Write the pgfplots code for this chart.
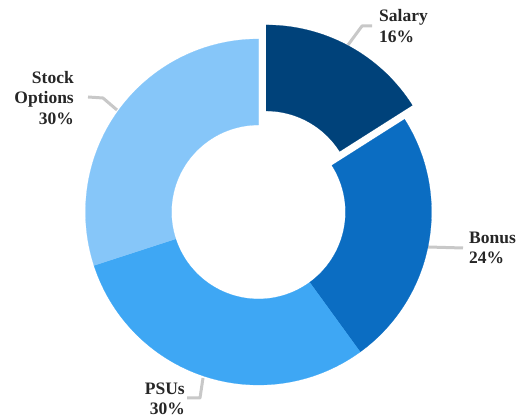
\documentclass[border=0pt]{standalone}
\usepackage{fontspec}
\setmainfont{Liberation Serif}
\usepackage{pgfplots}
\usepackage{pgfplotstable}
\pgfplotsset{compat=1.18}
\definecolor{cSal}{HTML}{00427A}
\definecolor{cBon}{HTML}{0B6DC2}
\definecolor{cPSU}{HTML}{3EA7F4}
\definecolor{cSto}{HTML}{86C6F9}
\definecolor{txt}{HTML}{262626}
\definecolor{lead}{HTML}{C8C8C8}

\pgfplotstableread{
label value
Salary 16
Bonus 24
PSUs 30
Stock 30
}\shares

\pgfplotstablegetelem{0}{value}\of\shares \edef\vSal{\pgfplotsretval}
\pgfplotstablegetelem{1}{value}\of\shares \edef\vBon{\pgfplotsretval}
\pgfplotstablegetelem{2}{value}\of\shares \edef\vPSU{\pgfplotsretval}
\pgfplotstablegetelem{3}{value}\of\shares \edef\vSto{\pgfplotsretval}
\pgfmathsetmacro\aSal{90}
\pgfmathsetmacro\bSal{\aSal-3.6*\vSal}
\pgfmathsetmacro\bBon{\bSal-3.6*\vBon}
\pgfmathsetmacro\bPSU{\bBon-3.6*\vPSU}
\pgfmathsetmacro\bSto{\bPSU-3.6*\vSto}
\pgfmathsetmacro\mSal{(\aSal+\bSal)/2}
\pgfmathsetmacro\cx{258.5}
\pgfmathsetmacro\cy{212}
\pgfmathsetmacro\cxS{\cx+16*cos(\mSal)}
\pgfmathsetmacro\cyS{\cy-16*sin(\mSal)}
\def\Rout{173}
\def\Rin{87}

\begin{document}
\begin{tikzpicture}[
  lbl/.style={font=\fontsize{17.5}{20.5}\selectfont\bfseries, text=txt, inner sep=0pt},
  ld/.style={draw=lead, line width=3pt, line join=round}
]
\useasboundingbox (0,0) rectangle (517pt,419pt);
\begin{axis}[
  at={(0,0)}, anchor=south west,
  scale only axis, x=1pt, y=1pt,
  xmin=0, xmax=517, ymin=0, ymax=419, y dir=reverse,
  hide axis, clip=false,
  declare function={
    segang(\s,\a,\b)=(\s<=1) ? (\a+(\b-\a)*\s) : ((\s<=2) ? \b : (\b+(\a-\b)*(\s-2)));
    segrad(\s,\R,\r)=(\s<=1) ? \R : ((\s<=2) ? (\R+(\r-\R)*(\s-1)) : \r);
  },
]
% leader lines
\draw[ld] (axis cs:348,45) -- (axis cs:362,26) -- (axis cs:372,26);
\draw[ld] (axis cs:117,110) -- (axis cs:103,98) -- (axis cs:88,97);
\draw[ld] (axis cs:428,247) -- (axis cs:463,248);
\draw[ld] (axis cs:203,378) -- (axis cs:200,398) -- (axis cs:187,398);

% slices
\addplot[fill=cBon, draw=cBon, line width=0.2pt, domain=0:3, samples=181, no markers]
  ({\cx+segrad(x,\Rout,\Rin)*cos(segang(x,\bSal,\bBon))},
   {\cy-segrad(x,\Rout,\Rin)*sin(segang(x,\bSal,\bBon))}) -- cycle;
\addplot[fill=cPSU, draw=cPSU, line width=0.2pt, domain=0:3, samples=181, no markers]
  ({\cx+segrad(x,\Rout,\Rin)*cos(segang(x,\bBon,\bPSU))},
   {\cy-segrad(x,\Rout,\Rin)*sin(segang(x,\bBon,\bPSU))}) -- cycle;
\addplot[fill=cSto, draw=cSto, line width=0.2pt, domain=0:3, samples=181, no markers]
  ({\cx+segrad(x,\Rout,\Rin)*cos(segang(x,\bPSU,\bSto))},
   {\cy-segrad(x,\Rout,\Rin)*sin(segang(x,\bPSU,\bSto))}) -- cycle;
\addplot[fill=cSal, draw=cSal, line width=0.2pt, domain=0:3, samples=181, no markers]
  ({\cxS+segrad(x,\Rout,\Rin)*cos(segang(x,\aSal,\bSal))},
   {\cyS-segrad(x,\Rout,\Rin)*sin(segang(x,\aSal,\bSal))}) -- cycle;

% labels
\node[lbl, anchor=west, align=left] at (axis cs:379,26) {Salary\\16\%};
\node[lbl, anchor=east, align=right] at (axis cs:74,98) {Stock\\Options\\30\%};
\node[lbl, anchor=west, align=left] at (axis cs:469,248) {Bonus\\24\%};
\node[lbl, anchor=east, align=right] at (axis cs:185,399) {PSUs\\30\%};
\end{axis}
\end{tikzpicture}
\end{document}
